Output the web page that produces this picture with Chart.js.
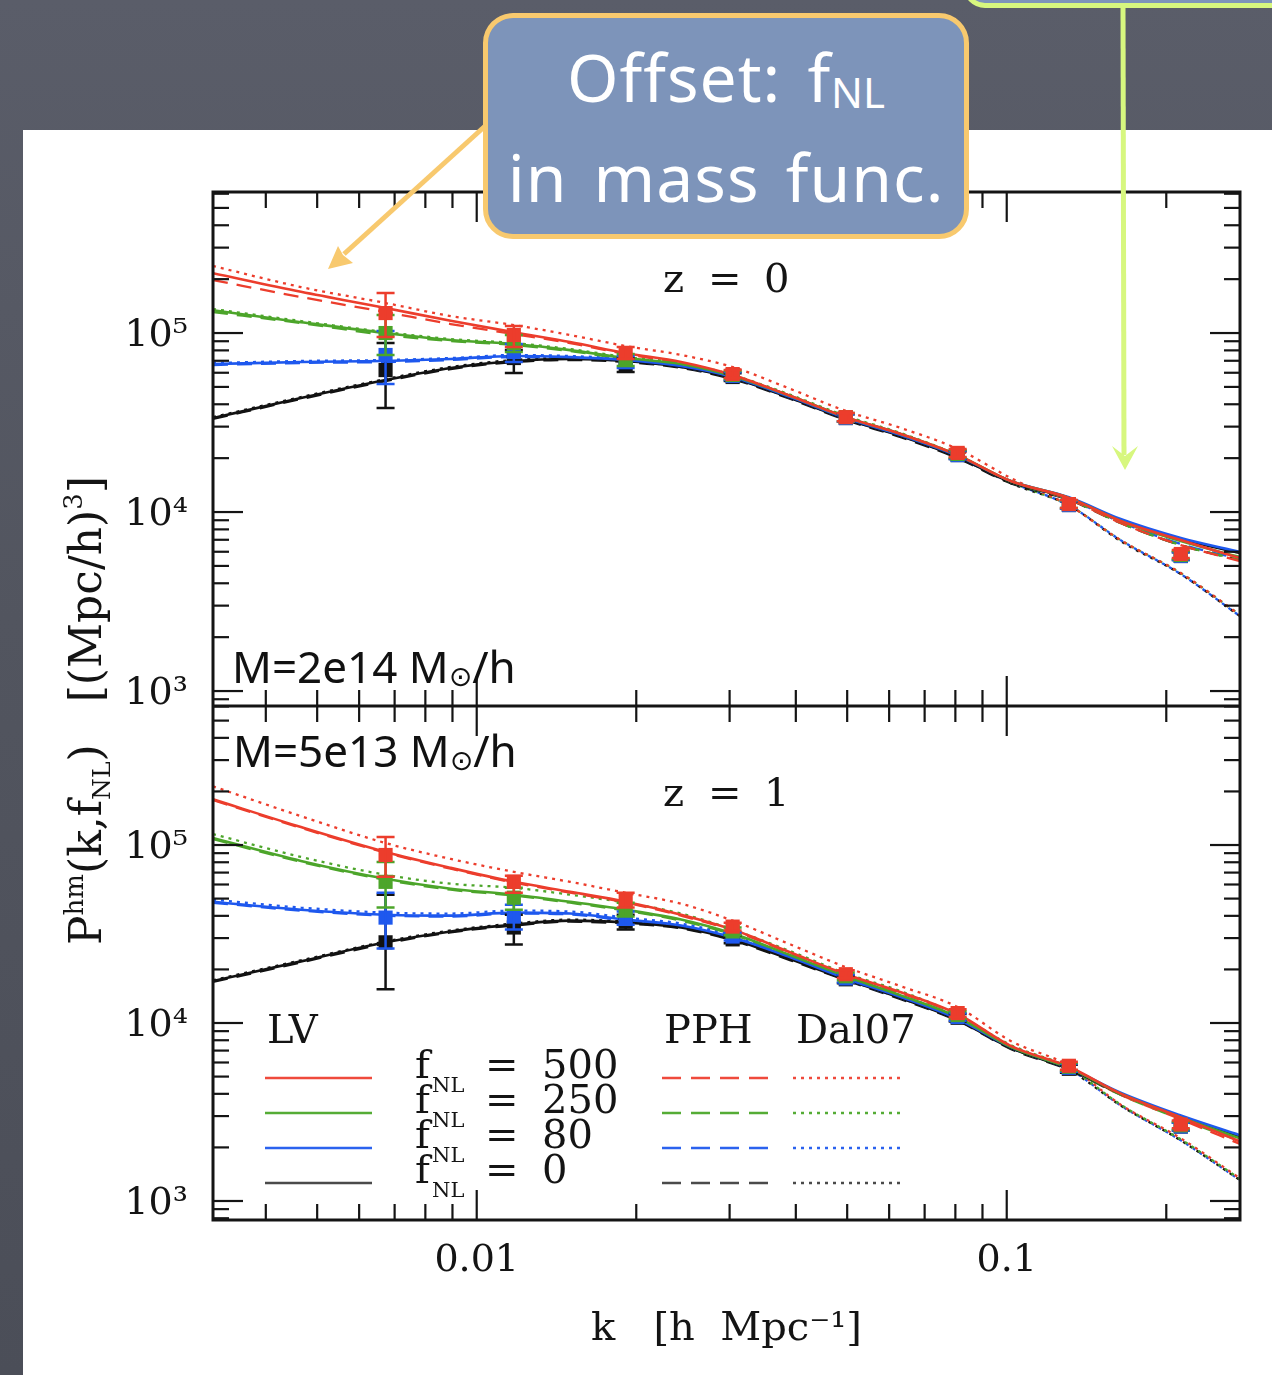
<!DOCTYPE html>
<html>
<head>
<meta charset="utf-8">
<title>Halo-matter power spectrum, fNL</title>
<script src="https://cdn.jsdelivr.net/npm/chart.js@4.4.1/dist/chart.umd.min.js"></script>
<style>
  html, body { margin: 0; padding: 0; }
  body {
    width: 1272px; height: 1375px; position: relative; overflow: hidden;
    background: linear-gradient(180deg, #5a5d69 0%, #52555f 45%, #4b4e58 100%);
  }
  #sheet { position: absolute; left: 23px; top: 130px; width: 1249px; height: 1245px; background: #fff; }
  #plot { position: absolute; left: 0; top: 0; }
  #arrows { position: absolute; left: 0; top: 0; pointer-events: none; }
  .callout {
    position: absolute; box-sizing: border-box; background: #7d94ba;
    border-radius: 30px; color: #fff; text-align: center;
    font-family: "Noto Sans", "Open Sans", sans-serif;
  }
  #note { left: 483px; top: 13px; width: 486px; height: 226px; border: 5px solid #f8c96e;
          font-size: 66px; line-height: 91px; padding-top: 13px; word-spacing: 8px; letter-spacing: 1px; }
  #note .nl { font-size: 42px; position: relative; top: 6px; letter-spacing: 0; }
  #pointer { left: 963px; top: -50px; width: 340px; height: 58px; border: 5px solid #d7f77f; border-radius: 22px; }
  .mass { position: absolute; font-family: "Noto Sans", "Open Sans", sans-serif; font-size: 44px;
          line-height: 44px; color: #111; white-space: nowrap; }
  .mass .sun { font-family: "DejaVu Sans", sans-serif; font-size: 28px; vertical-align: -3px; }
</style>
</head>
<body>
<div id="sheet"></div>
<canvas id="plot" width="1272" height="1375"></canvas>
<svg id="arrows" width="1272" height="1375">
  <line x1="505" y1="108" x2="344" y2="254" stroke="#f8c96e" stroke-width="5"/>
  <polygon points="328,269 353,263 343,255 338,246" fill="#f8c96e"/>
  <line x1="1123" y1="6" x2="1124" y2="455" stroke="#d7f77f" stroke-width="5"/>
  <polygon points="1125,470 1112,446 1125,456 1138,446" fill="#d7f77f"/>
</svg>
<div id="pointer" class="callout"></div>
<div id="note" class="callout"><div>Offset: f<span class="nl">NL</span></div><div>in mass func.</div></div>
<div class="mass" style="left:232px; top:644px">M=2e14 M<span class="sun">⊙</span>/h</div>
<div class="mass" style="left:233px; top:728px">M=5e13 M<span class="sun">⊙</span>/h</div>

<script>
const SERIF = '"DejaVu Serif", "Liberation Serif", serif';
const INK = '#141414';

// k range of the plot [h/Mpc]
const K_MIN = 0.00318;
const K_MAX = 0.2755;
// P range for each panel [(Mpc/h)^3]
const Z0_RANGE = [825, 613600];
const Z1_RANGE = [782, 604000];

// k values where the model curves are tabulated
const kGrid = [0.00318, 0.00466, 0.00673, 0.00893, 0.01175, 0.0150, 0.0191, 0.0243, 0.0304,
               0.0391, 0.0497, 0.0631, 0.0808, 0.1017, 0.131, 0.164, 0.213, 0.2755];
// k bins of the simulation measurements
const kBins = [0.00673, 0.01175, 0.0191, 0.0304, 0.0497, 0.0808, 0.131, 0.213];

const fnlValues = ['500', '250', '80', '0'];

// z = 0, M = 2e14 Msun/h : LV (solid), PPH (dashed), Dal07 (dotted)
const z0Lv500 = [216000, 170000, 138000, 117000, 101000, 89100, 77300, 68900, 58300, 44500, 33900, 27300, 20800, 14900, 12000, 8910, 6970, 5530];
const z0Lv250 = [134000, 115000, 100000, 91400, 86800, 80300, 72500, 67100, 57500, 44500, 33900, 27300, 20800, 14900, 12000, 8910, 6880, 5600];
const z0Lv80 = [67100, 68900, 69800, 71600, 74400, 73400, 70700, 65400, 56800, 43900, 33500, 26900, 20600, 14900, 12100, 9140, 7160, 5980];
const z0Lv0 = [33500, 43300, 54600, 63800, 69800, 71600, 69800, 64600, 56100, 43300, 33100, 26600, 20300, 14700, 12000, 9020, 7070, 5900];

const z0Pph500 = [197700, 158900, 131000, 112300, 98700, 87900, 76300, 68000, 57500, 44500, 33500, 26900, 20600, 14900, 11800, 8680, 6540, 5320];
const z0Pph250 = [131000, 113700, 97500, 90200, 85700, 79300, 71600, 66300, 56800, 43900, 33500, 26900, 20600, 14700, 11800, 8680, 6540, 5390];
const z0Pph80 = [66300, 68000, 68900, 70700, 73400, 72500, 69800, 64600, 56100, 43300, 33100, 26600, 20300, 14700, 11800, 8790, 6630, 5460];
const z0Pph0 = [33100, 42800, 53900, 62900, 68900, 70700, 68900, 63800, 55300, 42800, 32700, 26200, 20000, 14500, 11700, 8680, 6540, 5390];

const z0Dal500 = [236800, 180700, 147100, 124400, 110800, 97500, 84600, 75400, 64600, 48700, 36700, 29500, 22500, 15500, 10900, 6970, 4560, 2660];
const z0Dal250 = [136200, 116700, 101300, 92600, 87900, 81400, 73400, 68000, 58300, 45100, 34400, 27600, 20800, 14700, 10900, 6970, 4560, 2660];
const z0Dal80 = [68000, 69800, 70700, 72500, 75400, 74400, 71600, 66300, 57500, 44500, 33900, 27300, 20600, 14700, 10900, 6970, 4500, 2620];
const z0Dal0 = [33900, 43900, 55300, 64600, 70700, 72500, 70700, 65400, 56800, 43900, 33500, 26900, 20300, 14500, 10900, 6880, 4500, 2620];

// z = 0 measurements and their [low, high] errors
const z0Pts500 = [129300, 97500, 77300, 59000, 33900, 21400, 11080, 5830];
const z0Pts250 = [100000, 87900, 70700, 58300, 33900, 21100, 11080, 5750];
const z0Pts80 = [75400, 78300, 68900, 57500, 33500, 20800, 10940, 5680];
const z0Pts0 = [62100, 72500, 66300, 56800, 33500, 20800, 10940, 5680];
const z0Err500 = [[95000, 167300], [83500, 109400], [71600, 83500], [56100, 62100], [32200, 35700], [20300, 22500], [10530, 11670], [5530, 6130]];
const z0Err250 = [[75400, 126100], [78300, 97500], [65400, 76300], [55400, 61300], [32200, 35700], [20100, 22200], [10550, 11650], [5470, 6050]];
const z0Err80 = [[51900, 102600], [68900, 86800], [63800, 74400], [54700, 60400], [31900, 35200], [19800, 21900], [10420, 11500], [5400, 5970]];
const z0Err0 = [[38100, 87900], [59800, 80400], [60600, 72500], [54000, 59700], [31900, 35200], [19800, 21900], [10420, 11500], [5400, 5970]];

// z = 1, M = 5e13 Msun/h
const z1Lv500 = [180700, 126100, 91400, 74400, 62100, 54600, 48000, 40600, 33500, 24900, 18800, 14900, 11230, 7440, 5680, 4010, 2950, 2160];
const z1Lv250 = [109400, 81400, 64600, 56800, 52600, 48000, 43300, 38100, 31800, 24000, 18300, 14300, 10800, 7340, 5600, 4010, 2950, 2250];
const z1Lv80 = [48000, 43300, 40600, 40100, 41700, 41200, 38100, 35300, 30200, 23400, 17800, 14000, 10530, 7340, 5600, 4060, 3020, 2340];
const z1Lv0 = [17200, 22200, 28400, 32700, 35700, 37600, 36700, 34400, 29500, 22800, 17600, 13800, 10400, 7250, 5530, 4010, 2980, 2310];

const z1Pph500 = [179000, 124800, 90600, 73600, 61500, 54000, 47500, 40100, 33100, 24600, 18600, 14700, 11100, 7400, 5600, 3950, 2880, 2090];
const z1Pph250 = [108000, 80400, 63800, 56100, 52000, 47400, 42800, 37600, 31400, 23700, 18100, 14100, 10700, 7250, 5530, 3950, 2880, 2180];
const z1Pph80 = [47400, 42800, 40100, 39600, 41200, 40700, 37600, 34800, 29800, 23100, 17600, 13800, 10400, 7250, 5530, 4010, 2950, 2270];
const z1Pph0 = [17000, 21900, 28000, 32300, 35300, 37100, 36200, 34000, 29100, 22500, 17400, 13600, 10300, 7160, 5460, 3960, 2940, 2270];

const z1Dal500 = [213600, 145200, 102600, 83500, 70700, 62100, 53900, 46800, 37600, 27600, 20600, 16100, 12300, 7930, 5750, 3480, 2250, 1340];
const z1Dal250 = [115200, 85700, 68000, 60600, 57500, 52600, 47400, 41200, 33500, 25300, 19000, 15100, 11100, 7530, 5600, 3480, 2220, 1330];
const z1Dal80 = [49300, 44500, 41700, 41200, 42800, 42300, 39100, 36200, 31000, 23700, 18300, 14300, 10800, 7440, 5530, 3440, 2190, 1310];
const z1Dal0 = [17400, 22500, 28700, 33100, 36200, 38100, 37100, 34800, 29800, 23100, 17800, 14000, 10500, 7250, 5460, 3440, 2190, 1310];

const z1Pts500 = [87900, 62100, 49300, 34800, 18800, 11370, 5750, 2690];
const z1Pts250 = [62100, 50600, 43300, 32700, 18300, 11080, 5680, 2660];
const z1Pts80 = [39100, 39600, 39100, 30600, 17800, 10800, 5600, 2620];
const z1Pts0 = [28400, 34400, 37100, 29500, 17600, 10700, 5530, 2620];
const z1Err500 = [[66300, 110800], [53900, 67100], [44500, 53900], [33100, 36600], [17900, 19800], [10800, 11950], [5470, 6050], [2560, 2830]];
const z1Err250 = [[44500, 80400], [43300, 57500], [39600, 47400], [31100, 34400], [17400, 19200], [10550, 11650], [5400, 5970], [2530, 2800]];
const z1Err80 = [[26200, 53900], [33500, 46200], [35700, 42300], [29100, 32200], [16900, 18700], [10300, 11350], [5330, 5890], [2490, 2750]];
const z1Err0 = [[15500, 52600], [27600, 40600], [33500, 40600], [28100, 31000], [16700, 18500], [10200, 11250], [5260, 5820], [2490, 2750]];

// axis ticks
const xTicks = [0.004, 0.005, 0.006, 0.007, 0.008, 0.009, 0.01, 0.02, 0.03, 0.04, 0.05, 0.06, 0.07, 0.08, 0.09, 0.1, 0.2];
const xMajor = [0.01, 0.1];
const xMajorText = ['0.01', '0.1'];
const yTicks = [800, 900, 1000, 2000, 3000, 4000, 5000, 6000, 7000, 8000, 9000,
                10000, 20000, 30000, 40000, 50000, 60000, 70000, 80000, 90000,
                100000, 200000, 300000, 400000, 500000, 600000];
const yMajor = [1000, 10000, 100000];
const yMajorText = ['10³', '10⁴', '10⁵'];

// styles per fNL (500, 250, 80, 0) and per model
const fnlColors = ['#ec3d2c', '#4ca52a', '#1e58ee', '#121212'];
const legendColors = ['#ef4a3c', '#55ac35', '#2b62ee', '#4a4a4a'];
const modelDash = { lv: [], pph: [15, 9], dal: [3, 5] };

const pairs = (ks, vs) => ks.map((k, i) => ({ x: k, y: vs[i] }));

function curve(vals, color, dash, axis, order) {
  return {
    data: pairs(kGrid, vals), yAxisID: axis, order,
    borderColor: color, borderWidth: dash.length ? 2.3 : 2.6, borderDash: dash,
    pointRadius: 0, fill: false, cubicInterpolationMode: 'monotone'
  };
}

function measured(vals, errs, color, axis, order) {
  return {
    data: pairs(kBins, vals), errors: errs, yAxisID: axis, order,
    showLine: false, pointStyle: 'rect', pointRadius: 10, pointBorderWidth: 0,
    backgroundColor: color, borderColor: color
  };
}

const panels = [
  { axis: 'yTop', lv: [z0Lv500, z0Lv250, z0Lv80, z0Lv0], pph: [z0Pph500, z0Pph250, z0Pph80, z0Pph0],
    dal: [z0Dal500, z0Dal250, z0Dal80, z0Dal0], pts: [z0Pts500, z0Pts250, z0Pts80, z0Pts0],
    err: [z0Err500, z0Err250, z0Err80, z0Err0] },
  { axis: 'yBot', lv: [z1Lv500, z1Lv250, z1Lv80, z1Lv0], pph: [z1Pph500, z1Pph250, z1Pph80, z1Pph0],
    dal: [z1Dal500, z1Dal250, z1Dal80, z1Dal0], pts: [z1Pts500, z1Pts250, z1Pts80, z1Pts0],
    err: [z1Err500, z1Err250, z1Err80, z1Err0] }
];

const datasets = [];
panels.forEach(p => {
  fnlColors.forEach((c, i) => {
    datasets.push(measured(p.pts[i], p.err[i], c, p.axis, i));
    datasets.push(curve(p.lv[i], c, modelDash.lv, p.axis, 10 + i));
    datasets.push(curve(p.pph[i], c, modelDash.pph, p.axis, 20 + i));
    datasets.push(curve(p.dal[i], c, modelDash.dal, p.axis, 30 + i));
  });
});

// error bars drawn right after each measurement set
const errorBars = {
  id: 'errorBars',
  afterDatasetDraw(chart, args) {
    const ds = chart.data.datasets[args.index];
    if (!ds.errors) return;
    const ys = chart.scales[ds.yAxisID];
    const ctx = chart.ctx;
    ctx.save();
    ctx.strokeStyle = ds.backgroundColor;
    ctx.lineWidth = 2.5;
    args.meta.data.forEach((pt, i) => {
      const y0 = ys.getPixelForValue(ds.errors[i][0]);
      const y1 = ys.getPixelForValue(ds.errors[i][1]);
      ctx.beginPath();
      ctx.moveTo(pt.x, y0); ctx.lineTo(pt.x, y1);
      ctx.moveTo(pt.x - 9, y0); ctx.lineTo(pt.x + 9, y0);
      ctx.moveTo(pt.x - 9, y1); ctx.lineTo(pt.x + 9, y1);
      ctx.stroke();
    });
    ctx.restore();
  }
};

// box frame with inward ticks on all sides of both panels
const frame = {
  id: 'frame',
  afterDatasetsDraw(chart) {
    const { ctx, chartArea: a } = chart;
    const xs = chart.scales.x;
    const seg = (x0, y0, x1, y1) => { ctx.beginPath(); ctx.moveTo(x0, y0); ctx.lineTo(x1, y1); ctx.stroke(); };
    ctx.save();
    ctx.strokeStyle = INK;
    ctx.lineWidth = 2.2;
    ['yTop', 'yBot'].forEach(id => {
      const ys = chart.scales[id];
      ys.ticks.forEach(t => {
        const y = ys.getPixelForValue(t.value);
        const len = yMajor.includes(t.value) ? 30 : 16;
        seg(a.left, y, a.left + len, y);
        seg(a.right - len, y, a.right, y);
      });
      xs.ticks.forEach(t => {
        const x = xs.getPixelForValue(t.value);
        const len = xMajor.includes(t.value) ? 30 : 16;
        seg(x, ys.top, x, ys.top + len);
        seg(x, ys.bottom - len, x, ys.bottom);
      });
    });
    ctx.lineWidth = 3;
    ctx.strokeRect(a.left, a.top, a.right - a.left, a.bottom - a.top);
    seg(a.left, chart.scales.yTop.bottom, a.right, chart.scales.yTop.bottom);
    ctx.restore();
  }
};

function drawRuns(ctx, x, y, runs) {
  let cx = x;
  runs.forEach(r => {
    ctx.font = `${r.size}px ${SERIF}`;
    ctx.fillText(r.text, cx, y + (r.dy || 0));
    cx += ctx.measureText(r.text).width;
  });
  return cx;
}

// panel labels, legend and the shared y title
const annotations = {
  id: 'annotations',
  afterDraw(chart) {
    const ctx = chart.ctx;
    ctx.save();
    ctx.fillStyle = INK;
    ctx.textBaseline = 'alphabetic';
    ctx.textAlign = 'left';

    ctx.font = `40px ${SERIF}`;
    [['0', 292], ['1', 806]].forEach(([z, base]) => {
      ctx.fillText('z', 663, base);
      ctx.fillText('=', 708, base);
      ctx.fillText(z, 764, base);
    });

    // legend
    ctx.fillText('LV', 267, 1043);
    ctx.fillText('PPH', 664, 1043);
    ctx.fillText('Dal07', 796, 1043);
    const rows = [1078, 1113, 1148, 1183];
    const spans = [[265, 372, 'lv'], [662, 769, 'pph'], [793, 902, 'dal']];
    rows.forEach((y, i) => {
      spans.forEach(([x0, x1, m]) => {
        ctx.strokeStyle = legendColors[i];
        ctx.lineWidth = 2.3;
        ctx.setLineDash(m === 'pph' ? [19, 10] : modelDash[m]);
        ctx.beginPath(); ctx.moveTo(x0, y); ctx.lineTo(x1, y); ctx.stroke();
      });
      ctx.setLineDash([]);
      drawRuns(ctx, 415, y, [{ text: 'f', size: 40 }]);
      drawRuns(ctx, 432, y + 14, [{ text: 'NL', size: 21 }]);
      ctx.font = `40px ${SERIF}`;
      ctx.fillText('=', 485, y);
      ctx.fillText(fnlValues[i], 542, y);
    });

    // y title, rotated, reading upwards
    ctx.translate(101, 945);
    ctx.rotate(-Math.PI / 2);
    drawRuns(ctx, 0, 0, [
      { text: 'P', size: 44 }, { text: 'hm', size: 26, dy: -18 }, { text: '(k,f', size: 44 },
      { text: 'NL', size: 25, dy: 9 }, { text: ')', size: 44 }, { text: '   [(Mpc/h)', size: 44 },
      { text: '3', size: 26, dy: -19 }, { text: ']', size: 44 }
    ]);
    ctx.restore();
  }
};

function logAxis(range, ticks, weight) {
  return {
    type: 'logarithmic', position: 'left', stack: 'panels', stackWeight: weight,
    min: range[0], max: range[1], bounds: 'data',
    grid: { display: false, drawTicks: false }, border: { display: false },
    afterBuildTicks: s => { s.ticks = ticks.filter(v => v >= s.min && v <= s.max).map(v => ({ value: v })); },
    afterFit: s => { s.width = 213; },
    ticks: {
      autoSkip: false, padding: 25, labelOffset: 3, color: INK, font: { family: SERIF, size: 38 },
      callback: v => { const i = yMajor.indexOf(v); return i < 0 ? '' : yMajorText[i]; }
    }
  };
}

new Chart(document.getElementById('plot'), {
  type: 'line',
  data: { datasets },
  options: {
    responsive: false, animation: false, events: [],
    layout: { padding: { left: 0, top: 192, right: 32, bottom: 0 } },
    plugins: { legend: { display: false }, tooltip: { enabled: false } },
    scales: {
      x: {
        type: 'logarithmic', position: 'bottom', min: K_MIN, max: K_MAX, bounds: 'data',
        grid: { display: false, drawTicks: false }, border: { display: false },
        afterBuildTicks: s => { s.ticks = xTicks.map(v => ({ value: v })); },
        afterFit: s => { s.height = 155; },
        ticks: {
          autoSkip: false, maxRotation: 0, padding: 18, color: INK, font: { family: SERIF, size: 38 },
          callback: v => { const i = xMajor.indexOf(v); return i < 0 ? '' : xMajorText[i]; }
        },
        title: { display: true, text: 'k   [h  Mpc⁻¹]', color: INK, font: { family: SERIF, size: 40 },
                 padding: { top: 0, bottom: 21 } }
      },
      yBot: logAxis(Z1_RANGE, yTicks, 1),
      yTop: logAxis(Z0_RANGE, yTicks, 1)
    }
  },
  plugins: [errorBars, frame, annotations]
});
</script>
</body>
</html>
